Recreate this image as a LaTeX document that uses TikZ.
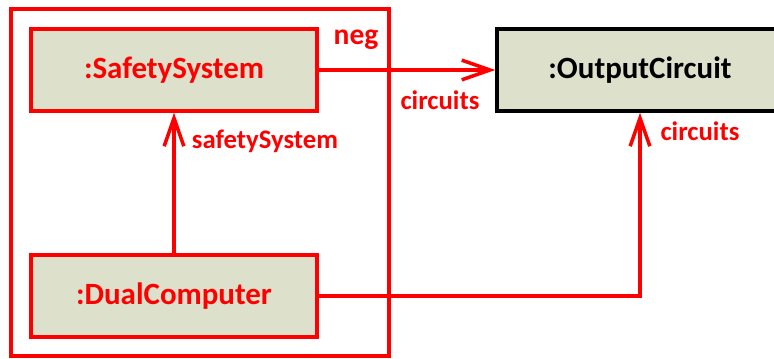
\documentclass[tikz,border=0pt]{standalone}
\usepackage{fontspec}
\setmainfont{Carlito}
\usepackage{xcolor}
\definecolor{umlred}{RGB}{255,0,0}
\definecolor{umlbeige}{RGB}{221,224,202}
\usepackage{tikz}
\usetikzlibrary{arrows.meta,positioning}

\tikzset{
  objbox/.style={draw=umlred,fill=umlbeige,line width=2.5pt,inner sep=0pt,
    minimum width=7.15cm,minimum height=2.05cm,text=umlred,
    font=\fontsize{22}{26}\selectfont\bfseries},
  rolelabel/.style={text=umlred,font=\fontsize{19}{22}\selectfont\bfseries},
  assoc/.style={umlred,line width=2.5pt,-{Straight Barb[length=20pt,width=14pt]}},
}

\begin{document}
\begin{tikzpicture}[x=0.025cm,y=-0.025cm]
  \useasboundingbox (0,0) rectangle (774,359);
  \node[draw=umlred,line width=2.5pt,minimum width=9.45cm,minimum height=8.675cm] (negframe) at (200,182.5) {};
  \node[rolelabel,font=\fontsize{21}{24}\selectfont\bfseries] (neglabel) at (356,40) {neg};
  \node[objbox] (safety) at (174,70) {:SafetySystem};
  \node[objbox] (dual) at (174,296) {:DualComputer};
  \node[objbox,draw=black,text=black] (output) at (640,70) {:OutputCircuit};
  \draw[assoc] (dual.north) -- (safety.south);
  \draw[assoc] (safety.east) -- (output.west);
  \draw[assoc] (dual.east) -| (output.south);
  \node[rolelabel] at (265,141) {safetySystem};
  \node[rolelabel] at (440,100) {circuits};
  \node[rolelabel] at (700,131) {circuits};
\end{tikzpicture}
\end{document}
